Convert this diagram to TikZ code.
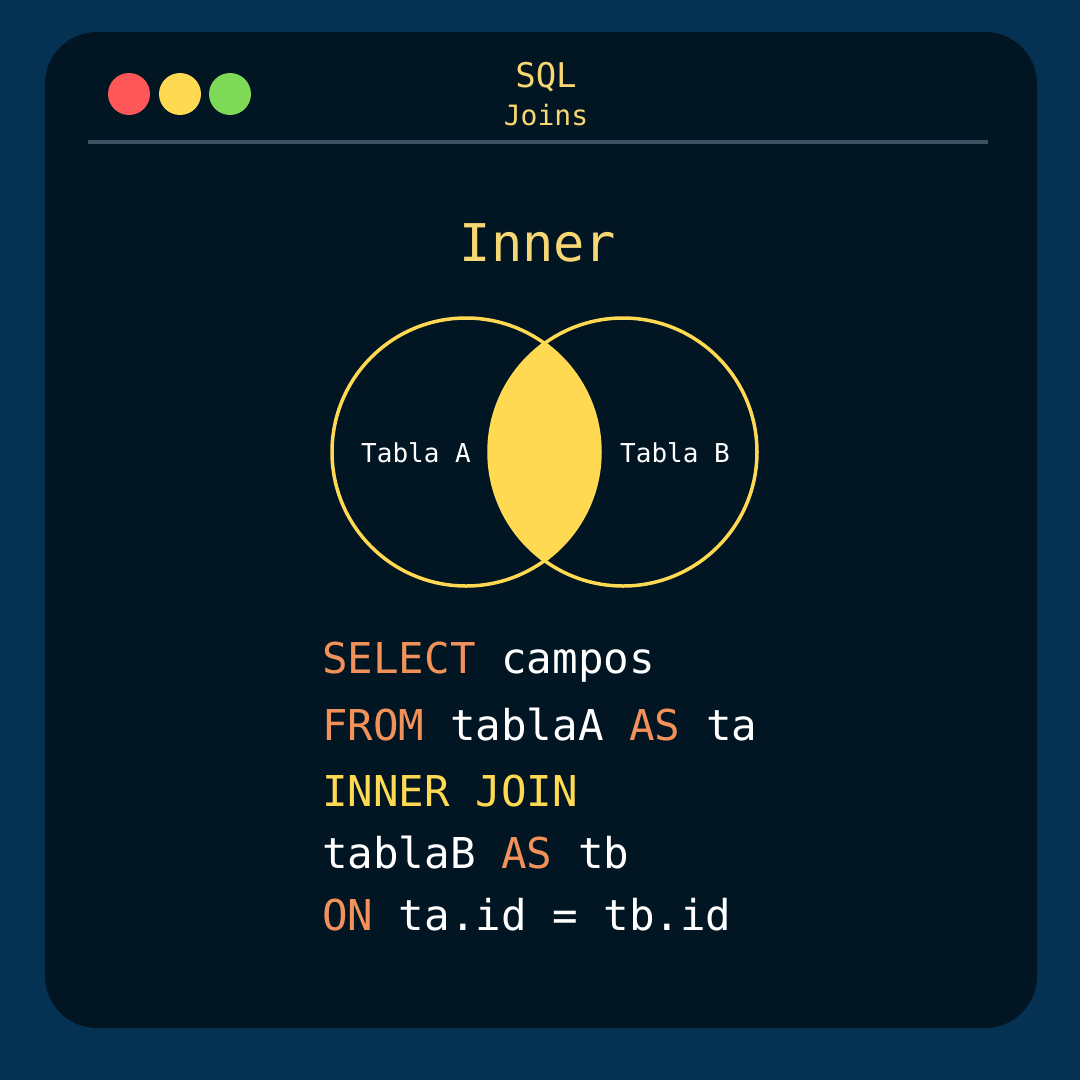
\documentclass[tikz,border=0pt]{standalone}
\usepackage{fontspec}
\setmonofont{DejaVu Sans Mono}
\definecolor{bgblue}{HTML}{053252}
\definecolor{card}{HTML}{011522}
\definecolor{tred}{HTML}{FF5757}
\definecolor{tyellow}{HTML}{FFD952}
\definecolor{tgreen}{HTML}{7ED957}
\definecolor{ytext}{HTML}{F7D774}
\definecolor{kw}{HTML}{F2925A}
\definecolor{sep}{HTML}{3A5262}
\begin{document}
\begin{tikzpicture}[x=1pt,y=-1pt,
  dot/.style={circle,inner sep=0pt,minimum size=42pt},
  code/.style={anchor=base west,inner sep=0pt,font=\ttfamily\fontsize{42.5}{42.5}\selectfont,text=white},
  lbl/.style={inner sep=0pt,font=\ttfamily\fontsize{26}{26}\selectfont,text=white}]
\fill[bgblue] (0,0) rectangle (1080,1080);
\fill[card,rounded corners=52pt] (45,32) rectangle (1037,1028);
\node[dot,fill=tred] (r) at (129,94) {};
\node[dot,fill=tyellow] (y) at (180,94) {};
\node[dot,fill=tgreen] (g) at (230,94) {};
\node[font=\ttfamily\fontsize{34}{34}\selectfont,text=ytext,anchor=base] (sql) at (546,87) {SQL};
\node[font=\ttfamily\fontsize{28}{28}\selectfont,text=ytext,anchor=base] (joins) at (546,125) {Joins};
\draw[sep,line width=3.5pt] (88,142) coordinate (s1) -- (988,142) coordinate (s2);
\node[font=\ttfamily\fontsize{52}{52}\selectfont,text=ytext,anchor=base] (inner) at (538,261) {Inner};
% lens
\begin{scope}
  \clip (466,452) circle (134);
  \fill[tyellow] (623,452) circle (134);
\end{scope}
\draw[tyellow,line width=3.5pt] (466,452) circle (134);
\draw[tyellow,line width=3.5pt] (623,452) circle (134);
\node[lbl] (ta) at (416,453) {Tabla A};
\node[lbl] (tb) at (675,453) {Tabla B};
\node[code] (l1) at (322,673) {\textcolor{kw}{SELECT} campos};
\node[code] (l2) at (322,740) {\textcolor{kw}{FROM} tablaA \textcolor{kw}{AS} ta};
\node[code] (l3) at (322,806) {\textcolor{tyellow}{INNER JOIN}};
\node[code] (l4) at (322,868) {tablaB \textcolor{kw}{AS} tb};
\node[code] (l5) at (322,930) {\textcolor{kw}{ON} ta.id = tb.id};
\end{tikzpicture}
\end{document}
